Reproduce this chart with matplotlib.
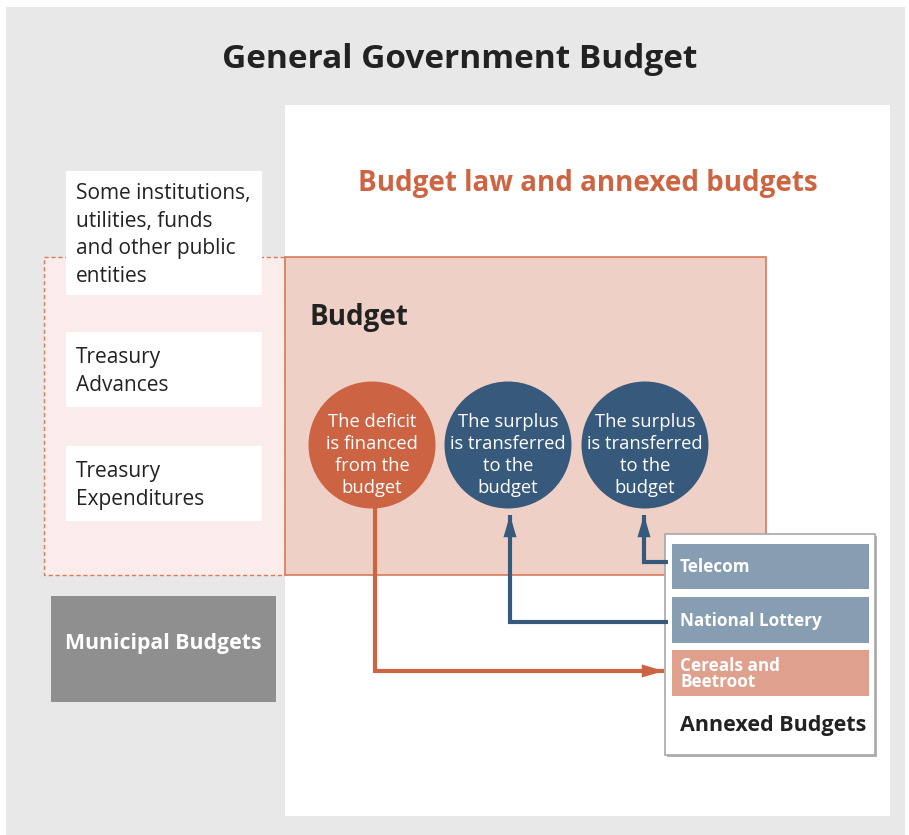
import matplotlib.pyplot as plt
from matplotlib.patches import Rectangle, Circle, FancyArrowPatch

plt.rcParams['font.family'] = ['Open Sans', 'DejaVu Sans']

# texts of the diagram
title = "General Government Budget"
subtitle = "Budget law and annexed budgets"
budget_label = "Budget"
left_items = ["Some institutions,\nutilities, funds\nand other public\nentities",
              "Treasury\nAdvances",
              "Treasury\nExpenditures"]
municipal = "Municipal Budgets"
circle_texts = ["The deficit\nis financed\nfrom the\nbudget",
                "The surplus\nis transferred\nto the\nbudget",
                "The surplus\nis transferred\nto the\nbudget"]
annexed_items = ["Telecom", "National Lottery", "Cereals and\nBeetroot"]
annexed_title = "Annexed Budgets"

ORANGE = "#cc6342"
BLUE = "#375a7c"
DARK = "#222222"

fig = plt.figure(figsize=(9.09, 8.35), dpi=100)
ax = fig.add_axes([0, 0, 1, 1])
ax.set_xlim(0, 909)
ax.set_ylim(835, 0)
ax.axis("off")


def box(x0, y0, x1, y1, **kw):
    ax.add_patch(Rectangle((x0, y0), x1 - x0, y1 - y0, **kw))


# background frames
box(6, 7, 905, 835, color="#e8e8e8", lw=0)
box(285, 105, 890, 816, color="white", lw=0)

ax.text(460, 60, title, ha="center", va="center", fontsize=24,
        fontweight="bold", color=DARK)
ax.text(588, 184, subtitle, ha="center", va="center", fontsize=20,
        fontweight="bold", color="#cd6543")

# dashed area and budget box
box(44, 257, 285, 575, facecolor="#f9ecea", edgecolor="#dc7a5c", lw=1,
    ls=(0, (3, 2)))
box(285, 257, 766, 575, facecolor="#efd0c6", edgecolor="#d9795a", lw=1.2)
ax.text(309, 318, budget_label, ha="left", va="center", fontsize=20,
        fontweight="bold", color=DARK)

# left white boxes
left_boxes = [(171, 295), (332, 407), (446, 521)]
for (y0, y1), txt in zip(left_boxes, left_items):
    box(66, y0, 262, y1, color="white", lw=0)
    ax.text(76, (y0 + y1) / 2 + 2, txt, ha="left", va="center", fontsize=15,
            color=DARK, linespacing=1.4)

box(51, 596, 276, 702, color="#8f8f8f", lw=0)
ax.text(163, 644, municipal, ha="center", va="center", fontsize=15.3,
        fontweight="bold", color="white")

# circles
centers = [372, 508, 645]
colors = [ORANGE, BLUE, BLUE]
for cx, col, txt in zip(centers, colors, circle_texts):
    ax.add_patch(Circle((cx, 445), 63.5, color=col, lw=0))
    ax.text(cx, 455, txt, ha="center", va="center", fontsize=13.2,
            color="white", linespacing=1.3)

# arrows
def path_arrow(pts, col):
    xs, ys = zip(*pts)
    ax.plot(xs, ys, color=col, lw=3,
            solid_joinstyle="miter", solid_capstyle="butt")
    ax.add_patch(FancyArrowPatch(pts[-2], pts[-1],
                                 arrowstyle="-|>,head_length=1.6,head_width=0.47",
                                 mutation_scale=10, color=col, lw=0,
                                 shrinkA=0, shrinkB=0))

path_arrow([(375, 508), (375, 671), (664, 671)], ORANGE)
path_arrow([(668, 622), (510, 622), (510, 515)], BLUE)
path_arrow([(668, 562), (644, 562), (644, 515)], BLUE)

# annexed budgets box
box(667, 536, 877, 757, color="#b5b5b5", lw=0)
box(665, 534, 875, 755, facecolor="white", edgecolor="#a8a8a8", lw=1.2)
bar_rows = [(544, 589), (597, 643), (650, 696)]
bar_cols = ["#879db2", "#879db2", "#e0a08e"]
for (y0, y1), col, txt in zip(bar_rows, bar_cols, annexed_items):
    box(672, y0, 869, y1, color=col, lw=0)
    ax.text(680, (y0 + y1) / 2 + 1, txt, ha="left", va="center", fontsize=12.3,
            fontweight="bold", color="white", linespacing=0.85)
ax.text(680, 725, annexed_title, ha="left", va="center", fontsize=15.5,
        fontweight="bold", color=DARK)

fig.savefig("out.png", dpi=100)
